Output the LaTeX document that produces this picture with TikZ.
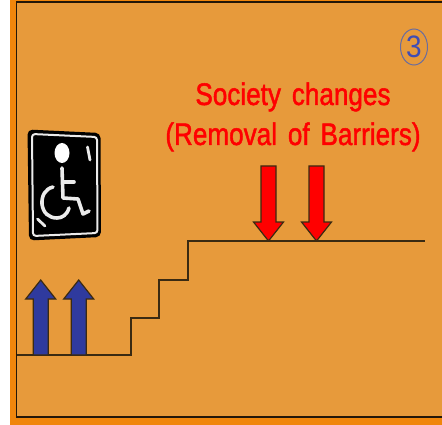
\documentclass[tikz,border=0pt]{standalone}
\usepackage{fontspec}
\usetikzlibrary{shapes.geometric}
\setmainfont{Liberation Sans}
\newfontfamily\headfont[FakeBold=1.6,WordSpace=1.5]{Liberation Sans}
\definecolor{panel}{HTML}{E79A3B}
\definecolor{strip}{HTML}{F0860C}
\definecolor{bluearrow}{HTML}{2F3A9E}
\definecolor{numblue}{HTML}{3F4DB5}
\definecolor{ringblue}{HTML}{6A6C9E}
\definecolor{edge}{HTML}{3A2A12}
\tikzset{
  arrowshape/.style={draw=edge,line width=1.2pt,line join=miter},
  stair/.style={draw=edge,line width=1.4pt,line join=miter},
  frameline/.style={draw=black!85!panel,line width=1.5pt},
  headline/.style={text=red,inner sep=0pt,anchor=base,xscale=.87,yscale=1.04,font=\headfont\fontsize{30}{36}\selectfont},
  icon/.style={draw=white!92!black,line cap=round,line join=round}
}
\begin{document}
\begin{tikzpicture}[x=1pt,y=-1pt]
\useasboundingbox (0,0) rectangle (442,425);
\fill[white] (0,0) rectangle (442,425);
\fill[strip] (10,0) rectangle (442,425);
\fill[panel] (16.5,2) rectangle (442,417);
\draw[frameline] (442,2) -- (16.5,2) -- (16.5,417) -- (442,417);
% staircase
\draw[stair] (17,355) -- (131,355) -- (131,318) -- (159,318) -- (159,280) -- (188,280) -- (188,241) -- (425,241);
% blue arrows
\foreach \c in {40.7,78.7}{
  \draw[arrowshape,fill=bluearrow] (\c-7.5,355) -- (\c-7.5,299) -- (\c-15,299) -- (\c,280) -- (\c+15,299) -- (\c+7.5,299) -- (\c+7.5,355) -- cycle;
}
% red arrows
\foreach \c in {268.5,316.5}{
  \draw[arrowshape,fill=red] (\c-7.5,166) -- (\c-7.5,222) -- (\c-15,222) -- (\c,241) -- (\c+15,222) -- (\c+7.5,222) -- (\c+7.5,166) -- cycle;
}
% texts
\node[headline] (line1) at (293,105) {Society changes};
\node[headline] (line2) at (293,145) {(Removal of Barriers)};
\node[draw=ringblue,line width=1pt,ellipse,minimum width=27pt,minimum height=36pt,inner sep=0pt] (ring) at (414,47) {};
\node[text=numblue,inner sep=0pt,xscale=.9,font=\fontsize{31}{36}\selectfont] (num) at (414,47) {3};
% wheelchair sign
\fill[black,rounded corners=5pt] (27.5,129.5) -- (100.5,133) -- (101,237) -- (29,240.5) -- cycle;
\draw[icon,line width=2pt,rounded corners=3pt] (32,134) -- (97,137) -- (97.5,233) -- (33,236) -- cycle;
\fill[white] (62,153) ellipse [x radius=7.5,y radius=10];
\draw[icon,line width=2.8pt] (87.5,147) -- (90,160);
\draw[icon,line width=2.8pt] (37.5,219) -- (45,226);
\draw[icon,line width=3.6pt] (62,168) -- (63,198) -- (78,199) -- (83,214) -- (89,211);
\draw[icon,line width=3.6pt] (63,182) -- (74,182);
\draw[icon,line width=3.6pt] (53,187) .. controls (45,189) and (41.5,196) .. (42,204) .. controls (43,213) and (49,218) .. (57,218) .. controls (62,218) and (67,215) .. (69,208);
\end{tikzpicture}
\end{document}
